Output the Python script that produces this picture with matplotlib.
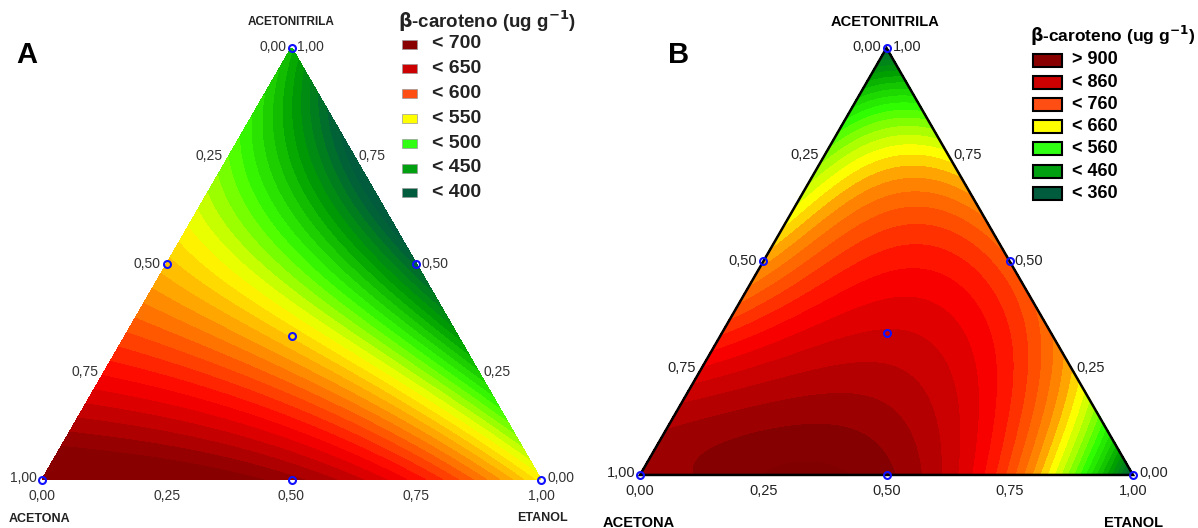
'''
Ternary mixture contour plots for beta-carotene extraction
'''
import numpy as np
import matplotlib
matplotlib.use('Agg')
import matplotlib.pyplot as plt
import matplotlib.tri as mtri
from matplotlib.colors import LinearSegmentedColormap, Normalize
from matplotlib.patches import Rectangle, Polygon

plt.rcParams['font.family'] = ['Liberation Sans', 'DejaVu Sans']

# Simplex lattice {4,4} - fractions of each solvent
acetona      = [1, .75, .5, .25, 0, .75, .5, .25, 0, .5, .25, 0, .25, 0, 0]
etanol       = [0, .25, .5, .75, 1, 0, .25, .5, .75, 0, .25, .5, 0, .25, 0]
acetonitrila = [0, 0, 0, 0, 0, .25, .25, .25, .25, .5, .5, .5, .75, .75, 1]

# beta-carotene (ug/g) at the lattice points
resp_A = [722, 712, 695, 648, 550, 655, 625, 555, 485, 560, 520, 390, 515, 398, 458]
resp_B = [890, 930, 915, 760, 350, 830, 870, 850, 690, 700, 800, 750, 595, 655, 360]

# experimental design points (simplex centroid)
design_a = [1, 0, 0, .5, .5, 0, 1/3]
design_e = [0, 1, 0, .5, 0, .5, 1/3]
design_n = [0, 0, 1, 0, .5, .5, 1/3]

# legend entries
leg_A = ['< 700', '< 650', '< 600', '< 550', '< 500', '< 450', '< 400']
leg_B = ['> 900', '< 860', '< 760', '< 660', '< 560', '< 460', '< 360']
leg_colors = ['#880000', '#cc0000', '#ff4e14', '#ffff00', '#30ff14', '#00a010', '#005c3c']

# colour scale of the filled contours
fill_A = [(400, '#005c3c'), (450, '#00a000'), (500, '#3cff00'), (550, '#ffff00'),
          (600, '#ff8000'), (650, '#ff0000'), (702, '#880000')]
fill_B = [(360, '#005c3c'), (460, '#00a000'), (560, '#30ff00'), (660, '#ffff00'),
          (710, '#ff9000'), (760, '#ff5000'), (815, '#ff0000'), (870, '#c00000'),
          (925, '#800000')]

H = np.sqrt(3) / 2
W, Hpx = 1198, 528


def to_xy(e, n):
    return np.asarray(e) + np.asarray(n) / 2, np.asarray(n) * H


def design_matrix(e, n, deg):
    e, n = np.asarray(e, float), np.asarray(n, float)
    cols = []
    for i in range(deg + 1):
        for j in range(deg + 1 - i):
            cols.append(e**i * n**j)
    return np.column_stack(cols)


def surface(resp, deg, N=160):
    # polynomial mixture model fitted to the lattice values, on a fine grid
    coef, *_ = np.linalg.lstsq(design_matrix(etanol, acetonitrila, deg),
                               np.asarray(resp, float), rcond=None)
    ee, nn = [], []
    for i in range(N + 1):
        for j in range(N + 1 - i):
            ee.append(i / N)
            nn.append(j / N)
    ee, nn = np.array(ee), np.array(nn)
    z = design_matrix(ee, nn, deg) @ coef
    x, y = to_xy(ee, nn)
    return x, y, z


def make_cmap(pts):
    lo, hi = pts[0][0], pts[-1][0]
    cmap = LinearSegmentedColormap.from_list(
        'bc', [((v - lo) / (hi - lo), c) for v, c in pts])
    return cmap, Normalize(lo, hi)


fig = plt.figure(figsize=(W / 100, Hpx / 100), dpi=100)
ov = fig.add_axes([0, 0, 1, 1])
ov.set_xlim(0, W)
ov.set_ylim(Hpx, 0)
ov.axis('off')


def panel(box, resp, deg, fill, levels, border, tick_col, fs_tick):
    left, top, width = box
    height = width * H
    ax = fig.add_axes([left / W, 1 - (top + height) / Hpx, width / W, height / Hpx])
    ax.set_xlim(0, 1)
    ax.set_ylim(0, H)
    ax.axis('off')
    cmap, norm = make_cmap(fill)
    x, y, z = surface(resp, deg)
    cs = ax.tricontourf(mtri.Triangulation(x, y), z, levels=levels, cmap=cmap, norm=norm,
                        extend='both')
    cs.set_edgecolor('face')
    cs.set_linewidth(0.6)
    if border:
        ax.add_patch(Polygon([(0, 0), (1, 0), (0.5, H)], closed=True, fill=False,
                             edgecolor='black', linewidth=1.8, clip_on=False, zorder=3))
    dx, dy = to_xy(design_e, design_n)
    ax.plot(dx, dy, 'o', ms=5, mfc='none', mec='#1010ff', mew=1.5, clip_on=False, zorder=4)

    ticks = [0.25, 0.5, 0.75]
    kw = dict(textcoords='offset pixels', fontsize=fs_tick, color=tick_col, va='center')
    # bottom edge: etanol fraction
    for t in [0, 0.25, 0.5, 0.75, 1]:
        ax.annotate(f'{t:.2f}'.replace('.', ','), (t, 0), xytext=(0, -16), ha='center', **kw)
    # left edge: acetona fraction
    for t in ticks:
        px, py = to_xy(0, 1 - t)
        ax.annotate(f'{t:.2f}'.replace('.', ','), (px, py), xytext=(-6, 0), ha='right', **kw)
    # right edge: acetonitrila fraction
    for t in ticks:
        px, py = to_xy(1 - t, t)
        ax.annotate(f'{t:.2f}'.replace('.', ','), (px, py), xytext=(5, 0), ha='left', **kw)
    ax.annotate('1,00', (0, 0), xytext=(-5, 2), ha='right', **kw)
    ax.annotate('0,00', (1, 0), xytext=(6, 2), ha='left', **kw)
    ax.annotate('0,00', (0.5, H), xytext=(-5, 1), ha='right', **kw)
    ax.annotate('1,00', (0.5, H), xytext=(6, 1), ha='left', **kw)
    return ax


# Panel A
panel((42, 48, 499), resp_A, 3, fill_A, np.arange(370, 741, 10), False, '#333333', 10)
ov.text(27, 55, 'A', fontsize=21, fontweight='bold', ha='center', va='center')
ov.text(291, 22, 'ACETONITRILA', fontsize=8.5, fontweight='bold', ha='center', va='center',
        color='#222222')
ov.text(9, 519, 'ACETONA', fontsize=9, fontweight='bold', ha='left', va='center', color='#222222')
ov.text(542, 518, 'ETANOL', fontsize=9, fontweight='bold', ha='center', va='center',
        color='#222222')
ov.text(398, 21, r'$\mathbf{\beta}$-caroteno (ug g$^{\mathbf{-1}}$)', fontsize=13.5,
        fontweight='bold', ha='left', va='center', color='#222222')
for k, lab in enumerate(leg_A):
    yc = 44 + k * 24.8
    ov.add_patch(Rectangle((402, yc - 4.5), 15, 9, facecolor=leg_colors[k],
                           edgecolor='#999999', linewidth=0.5))
    ov.text(432, yc, lab, fontsize=14, fontweight='bold', ha='left', va='center',
            color='#222222')

# Panel B
panel((640, 48, 493), resp_B, 4, fill_B, np.arange(330, 961, 20), True, '#222222', 10.5)
ov.text(679, 55, 'B', fontsize=21, fontweight='bold', ha='center', va='center')
ov.text(885, 22, 'ACETONITRILA', fontsize=10.5, fontweight='bold', ha='center', va='center')
ov.text(603, 523, 'ACETONA', fontsize=10.5, fontweight='bold', ha='left', va='center')
ov.text(1134, 523, 'ETANOL', fontsize=10.5, fontweight='bold', ha='center', va='center')
ov.text(1030, 36, r'$\mathbf{\beta}$-caroteno (ug g$^{\mathbf{-1}}$)', fontsize=12.5,
        fontweight='bold', ha='left', va='center')
for k, lab in enumerate(leg_B):
    yc = 60 + k * 22.2
    ov.add_patch(Rectangle((1033, yc - 6.5), 29, 13, facecolor=leg_colors[k],
                           edgecolor='black', linewidth=1.5))
    ov.text(1072, yc, lab, fontsize=13, fontweight='bold', ha='left', va='center')

fig.savefig('out.png', dpi=100)
